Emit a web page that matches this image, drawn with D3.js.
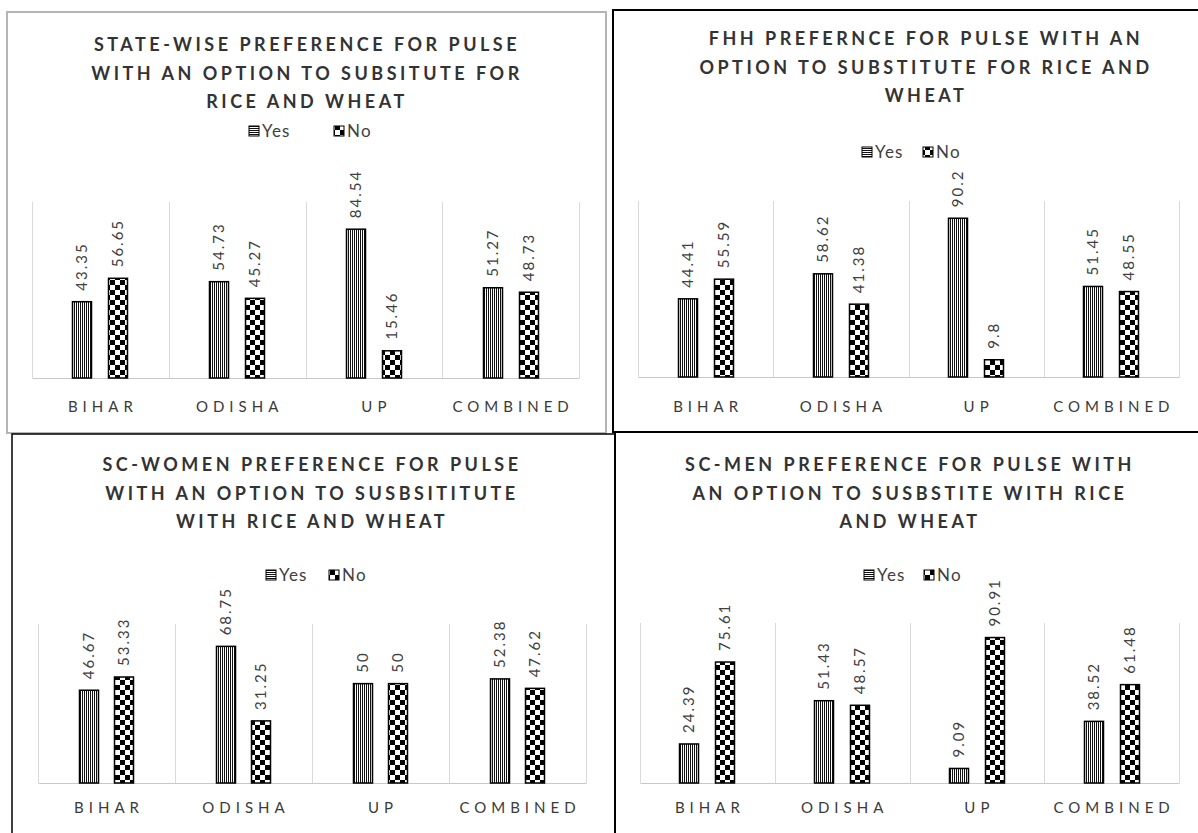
<!DOCTYPE html>
<html>
<head>
<meta charset="utf-8">
<script src="https://cdn.jsdelivr.net/npm/d3@7"></script>
<style>
  html, body { margin: 0; padding: 0; background: #fff; }
  svg { display: block; }
  text { font-family: Lato, "Open Sans", sans-serif; fill: #404040; }
</style>
</head>
<body>
<svg id="chart" width="1198" height="833"></svg>
<script>
// Categories and series shared by all four panels
const categories = ["BIHAR", "ODISHA", "UP", "COMBINED"];
const seriesNames = ["Yes", "No"];

// State-wise preference
const stateYes = [43.35, 54.73, 84.54, 51.27];
const stateNo  = [56.65, 45.27, 15.46, 48.73];
const stateTitle = ["STATE-WISE PREFERENCE FOR PULSE", "WITH AN OPTION TO SUBSITUTE FOR", "RICE AND WHEAT"];

// Female-headed households
const fhhYes = [44.41, 58.62, 90.2, 51.45];
const fhhNo  = [55.59, 41.38, 9.8, 48.55];
const fhhTitle = ["FHH PREFERNCE FOR PULSE WITH AN", "OPTION TO SUBSTITUTE FOR RICE AND", "WHEAT"];

// SC women
const scWomenYes = [46.67, 68.75, 50, 52.38];
const scWomenNo  = [53.33, 31.25, 50, 47.62];
const scWomenTitle = ["SC-WOMEN PREFERENCE FOR PULSE", "WITH AN OPTION TO SUSBSITITUTE", "WITH RICE AND WHEAT"];

// SC men
const scMenYes = [24.39, 51.43, 9.09, 38.52];
const scMenNo  = [75.61, 48.57, 90.91, 61.48];
const scMenTitle = ["SC-MEN PREFERENCE FOR PULSE WITH", "AN OPTION TO SUSBSTITE WITH RICE", "AND WHEAT"];

const svg = d3.select("#chart");
svg.append("rect").attr("width", 1198).attr("height", 833).attr("fill", "#fff");

// Fill patterns: vertical stripes for "Yes", checkerboard for "No"
const defs = svg.append("defs");
const stripes = defs.append("pattern").attr("id", "pat-yes")
  .attr("patternUnits", "userSpaceOnUse").attr("width", 2).attr("height", 4);
stripes.append("rect").attr("width", 2).attr("height", 4).attr("fill", "#fff");
stripes.append("rect").attr("width", 1).attr("height", 4).attr("fill", "#111");

const checker = defs.append("pattern").attr("id", "pat-no")
  .attr("patternUnits", "userSpaceOnUse").attr("width", 10).attr("height", 10);
checker.append("rect").attr("width", 10).attr("height", 10).attr("fill", "#fff");
checker.append("rect").attr("width", 5).attr("height", 5).attr("fill", "#000");
checker.append("rect").attr("x", 5).attr("y", 5).attr("width", 5).attr("height", 5).attr("fill", "#000");

// Legend swatch for "Yes" uses horizontal rules
const legYes = defs.append("pattern").attr("id", "pat-yes-leg")
  .attr("patternUnits", "userSpaceOnUse").attr("width", 4).attr("height", 2);
legYes.append("rect").attr("width", 4).attr("height", 2).attr("fill", "#fff");
legYes.append("rect").attr("width", 4).attr("height", 1).attr("fill", "#111");

const fills = { Yes: "url(#pat-yes)", No: "url(#pat-no)" };
const legendFills = { Yes: "url(#pat-yes-leg)", No: "url(#pat-no)" };

function drawPanel(cfg, yesVals, noVals, titleLines, yMax) {
  const g = svg.append("g");

  // frame
  g.append("rect")
    .attr("x", cfg.frame.x).attr("y", cfg.frame.y)
    .attr("width", cfg.frame.w).attr("height", cfg.frame.h)
    .attr("fill", "none").attr("stroke", cfg.frame.stroke)
    .attr("stroke-width", cfg.frame.sw);

  // title
  g.append("g").selectAll("text").data(titleLines).join("text")
    .attr("x", cfg.titleX + 2)
    .attr("y", (d, i) => cfg.titleY + i * 28.3)
    .attr("dy", "0.36em")
    .attr("text-anchor", "middle")
    .style("font-size", "18px").style("font-weight", 700)
    .style("letter-spacing", "3.5px")
    .style("fill", "#333")
    .text(d => d);

  // legend
  const leg = g.append("g");
  seriesNames.forEach((s, i) => {
    const lx = cfg.legend[i];
    leg.append("rect")
      .attr("x", lx).attr("y", cfg.legendY - 5)
      .attr("width", 10).attr("height", 10)
      .attr("fill", legendFills[s]).attr("stroke", "#000").attr("stroke-width", 1);
    leg.append("text")
      .attr("x", lx + 13).attr("y", cfg.legendY).attr("dy", "0.36em")
      .style("font-size", "17px").style("letter-spacing", "1.2px")
      .text(s);
  });

  // scales
  const x = d3.scaleBand().domain(categories)
    .range([cfg.plot.l, cfg.plot.r]).paddingInner(0).paddingOuter(0);
  const xs = d3.scaleBand().domain(seriesNames)
    .range([-28, 28]).paddingInner(0.444).paddingOuter(0);
  const y = d3.scaleLinear().domain([0, yMax]).range([cfg.plot.b, cfg.plot.t]);

  // category separators
  const seps = categories.map(c => x(c)).concat([cfg.plot.r]);
  g.append("g").selectAll("line").data(seps).join("line")
    .attr("x1", d => Math.round(d) + 0.5).attr("x2", d => Math.round(d) + 0.5)
    .attr("y1", y(yMax)).attr("y2", y(0))
    .attr("stroke", "#d9d9d9").attr("stroke-width", 1);

  // category axis
  const axis = g.append("g")
    .attr("transform", `translate(0,${y(0)})`)
    .call(d3.axisBottom(x).tickSize(0).tickPadding(0));
  axis.select(".domain").attr("stroke", "#c8c8c8").attr("stroke-width", 1.2);
  axis.selectAll(".tick text")
    .attr("y", cfg.labelY - y(0)).attr("dy", "0.36em")
    .attr("dx", "2.5px")
    .style("font-family", "Lato, sans-serif")
    .style("font-size", "15px").style("letter-spacing", "5px")
    .style("fill", "#3a3a3a");

  // bars and value labels
  const rows = categories.map((c, i) => [
    { cat: c, s: "Yes", v: yesVals[i] },
    { cat: c, s: "No", v: noVals[i] }
  ]).flat();

  const bx = d => Math.round(x(d.cat) + x.bandwidth() / 2 + xs(d.s));
  g.append("g").selectAll("rect").data(rows).join("rect")
    .attr("x", d => bx(d) + 0.5)
    .attr("y", d => y(d.v))
    .attr("width", Math.round(xs.bandwidth()) - 1)
    .attr("height", d => y(0) - y(d.v))
    .attr("fill", d => fills[d.s])
    .attr("stroke", "#000").attr("stroke-width", 1.5);

  g.append("g").selectAll("text").data(rows).join("text")
    .attr("transform", d => {
      const cx = bx(d) + xs.bandwidth() / 2;
      return `translate(${cx},${y(d.v) - 11}) rotate(-90)`;
    })
    .attr("dy", "0.36em")
    .attr("text-anchor", "start")
    .style("font-size", "15px").style("letter-spacing", "2px")
    .text(d => String(d.v));
}

drawPanel({
  frame: { x: 7, y: 12, w: 599, h: 421, stroke: "#b5b5b5", sw: 2 },
  titleX: 305, titleY: 45,
  legend: [249, 334], legendY: 131,
  plot: { l: 32, r: 579, t: 202, b: 378 },
  labelY: 407
}, stateYes, stateNo, stateTitle, 100);

drawPanel({
  frame: { x: 613, y: 10, w: 590, h: 422, stroke: "#000", sw: 2 },
  titleX: 924, titleY: 39,
  legend: [862, 923], legendY: 152,
  plot: { l: 638, r: 1179, t: 201, b: 377 },
  labelY: 407
}, fhhYes, fhhNo, fhhTitle, 100);

drawPanel({
  frame: { x: 12, y: 434, w: 603, h: 420, stroke: "#000", sw: 1.5 },
  titleX: 310, titleY: 465,
  legend: [266, 329], legendY: 575,
  plot: { l: 38, r: 586, t: 624, b: 783 },
  labelY: 808
}, scWomenYes, scWomenNo, scWomenTitle, 80);

drawPanel({
  frame: { x: 615, y: 432, w: 590, h: 420, stroke: "#000", sw: 2 },
  titleX: 908, titleY: 465,
  legend: [864, 924], legendY: 575,
  plot: { l: 640, r: 1179, t: 623, b: 783 },
  labelY: 808
}, scMenYes, scMenNo, scMenTitle, 100);
</script>
</body>
</html>
